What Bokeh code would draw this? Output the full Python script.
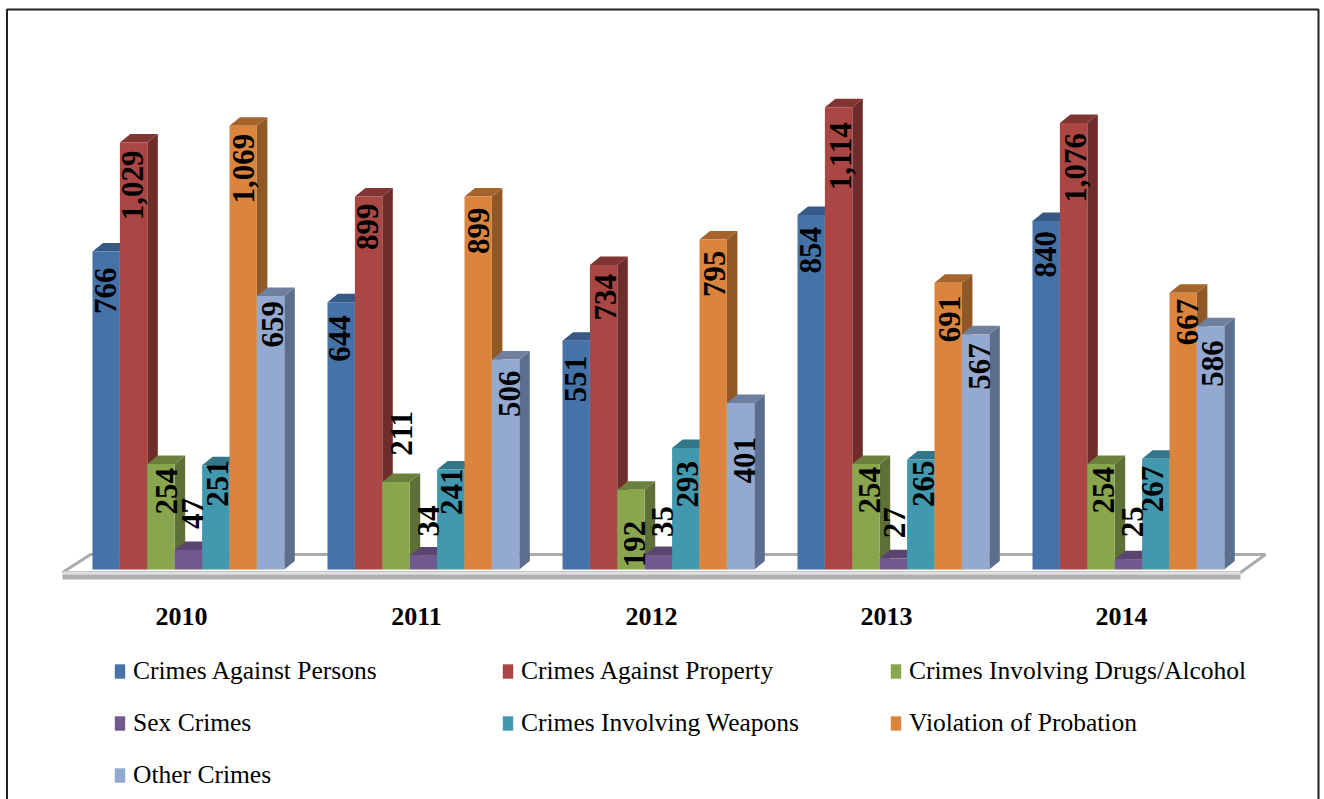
from bokeh.plotting import figure
from bokeh.models import Range1d, FixedTicker, Legend, LegendItem, ColumnDataSource
from bokeh.core.properties import value
from bokeh.embed import file_html
from bokeh.resources import INLINE
import math

years = ["2010", "2011", "2012", "2013", "2014"]
series_names = ["Crimes Against Persons", "Crimes Against Property", "Crimes Involving Drugs/Alcohol",
                "Sex Crimes", "Crimes Involving Weapons", "Violation of Probation", "Other Crimes"]
crimes_persons = [766, 644, 551, 854, 840]
crimes_property = [1029, 899, 734, 1114, 1076]
crimes_drugs = [254, 211, 192, 254, 254]
sex_crimes = [47, 34, 35, 27, 25]
crimes_weapons = [251, 241, 293, 265, 267]
violation_probation = [1069, 899, 795, 691, 667]
other_crimes = [659, 506, 401, 567, 586]
series_values = [crimes_persons, crimes_property, crimes_drugs, sex_crimes,
                 crimes_weapons, violation_probation, other_crimes]

front_colors = ["#4572A7", "#AA4643", "#89A54E", "#71588F", "#4198AF", "#DB843D", "#93A9CF"]
top_colors = ["#365A85", "#803532", "#6B803C", "#59456F", "#327689", "#A6642D", "#6F809E"]
side_colors = ["#30507A", "#6E2C2A", "#5E7035", "#4E3C62", "#2B6575", "#8F5826", "#5C6E8D"]

# label nudges in pixels, per series then per year: (right, down from bar top)
label_dx = [[-1, -2, -1, -1, -1], [-1, -1, 2, 2, 2], [5, 5, 3, 3, 2], [4, 5, 4, 1, 4],
            [2, 1, 2, 3, -3], [0, 0, 1, 1, 4], [2, 4, 4, 4, 2]]
label_dy = [[16, 13, 15, 12, 10], [8, 7, 9, 15, 10], [4, -71, 31, 3, 3], [-52, -50, -49, -51, -53],
            [-5, -1, 13, 1, 7], [8, 11, 11, 13, 6], [5, 11, 34, 9, 14]]

PX_PER_VALUE = 0.415
BASE_Y = 569
PX_PER_GROUP = 235
FIRST_X = 181
W, H = 1324, 799


def dx(px):
    return px / PX_PER_GROUP


def dv(px):
    return px / PX_PER_VALUE


def X(px):
    return (px - FIRST_X) / PX_PER_GROUP


def Y(px):
    return (BASE_Y - px) / PX_PER_VALUE


p = figure(width=W, height=H, output_backend="svg", toolbar_location=None,
           x_range=Range1d(X(0), X(W)), y_range=Range1d(Y(H), Y(0)),
           min_border=0, min_border_left=0, min_border_right=0, min_border_top=0, min_border_bottom=0)
p.outline_line_color = None
p.background_fill_color = "white"
p.xgrid.visible = False
p.ygrid.visible = False
p.yaxis.visible = False

ax = p.xaxis[0]
ax.ticker = FixedTicker(ticks=list(range(len(years))))
ax.major_label_overrides = {i: y for i, y in enumerate(years)}
ax.fixed_location = Y(579)
ax.axis_line_color = None
ax.major_tick_line_color = None
ax.minor_tick_line_color = None
ax.major_label_standoff = 22
ax.major_label_text_font = "Liberation Serif"
ax.major_label_text_font_style = "bold"
ax.major_label_text_font_size = "26px"
ax.major_label_text_color = "black"

# page frame
frame_x = [X(6.5), X(6.5), X(1318), X(1318)]
frame_y = [Y(H), Y(9), Y(9), Y(H)]
p.line(frame_x, frame_y, line_color="#222222", line_width=2)

# floor
p.patch([X(62), X(90), X(1265), X(1240)], [Y(572), Y(554), Y(554), Y(572)],
        fill_color="white", line_color="#ABABAB", line_width=3)
p.quad(left=[X(62)], right=[X(1240)], top=[Y(571)], bottom=[Y(574)], fill_color="#E0E0E0", line_color=None)
p.quad(left=[X(62)], right=[X(1240)], top=[Y(574)], bottom=[Y(579)], fill_color="#B0B0B0", line_color=None)

BAR_W = 27.4
GROUP_LEFT = -89
DEPTH_X = 10.5
DEPTH_Y = 8.5
items = []
label_x, label_y, label_t, label_xo, label_yo = [], [], [], [], []

for j, vals in enumerate(series_values):
    lefts = [i + dx(GROUP_LEFT + BAR_W * j) for i in range(len(vals))]
    rights = [l + dx(BAR_W) for l in lefts]
    side_xs = [[r, r + dx(DEPTH_X), r + dx(DEPTH_X), r] for r in rights]
    side_ys = [[v, v + dv(DEPTH_Y), dv(DEPTH_Y), 0] for v in vals]
    top_xs = [[l, l + dx(DEPTH_X), r + dx(DEPTH_X), r] for l, r in zip(lefts, rights)]
    top_ys = [[v, v + dv(DEPTH_Y), v + dv(DEPTH_Y), v] for v in vals]
    p.patches(side_xs, side_ys, fill_color=side_colors[j], line_color=None)
    p.patches(top_xs, top_ys, fill_color=top_colors[j], line_color=None)
    r = p.quad(left=lefts, right=rights, bottom=[0] * len(vals), top=vals,
               fill_color=front_colors[j], line_color=None)
    items.append(LegendItem(label=series_names[j], renderers=[r]))
    for i, v in enumerate(vals):
        label_x.append(lefts[i] + dx(BAR_W / 2))
        label_y.append(v)
        label_t.append(f"{v:,}")
        label_xo.append(label_dx[j][i])
        label_yo.append(label_dy[j][i])

src = ColumnDataSource(dict(x=label_x, y=label_y, t=label_t, xo=label_xo, yo=label_yo))
p.text(x="x", y="y", text="t", x_offset="xo", y_offset="yo", source=src, angle=math.pi / 2,
       text_align="right", text_baseline="middle", text_font=value("Liberation Serif"),
       text_font_style="bold", text_font_size="31px", text_color="black")

legend = Legend(items=items, orientation="horizontal", ncols=3, location=(113, 9), padding=0, margin=0,
                spacing=22, glyph_width=13, glyph_height=18, label_standoff=7, label_width=346,
                label_text_font="Liberation Serif", label_text_font_size="25.5px",
                label_text_color="black", background_fill_alpha=0, border_line_color=None)
p.add_layout(legend)

open("out.html", "w").write(file_html(p, INLINE))
